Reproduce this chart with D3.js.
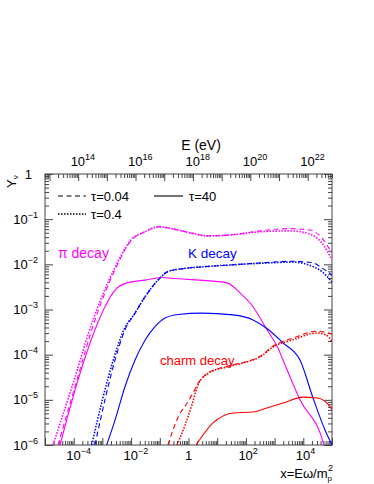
<!DOCTYPE html>
<html>
<head>
<meta charset="utf-8">
<script src="https://cdn.jsdelivr.net/npm/d3@7"></script>
<style>
  body { margin: 0; background: #fff; }
  svg { display: block; font-family: "Liberation Sans", Arial, sans-serif; }
</style>
</head>
<body>
<svg id="chart" width="374" height="484"></svg>
<script>
// axis ranges
const xDomain = [1e-5, 1e5]
const yDomain = [1e-6, 1]
const eDomain = [7e12, 7e22]   // E (eV) lined up with x on the top axis
const xLabelPowers = [-4, -2, 0, 2, 4]
const eLabelPowers = [14, 16, 18, 20, 22]
const yLabelPowers = [0, -1, -2, -3, -4, -5, -6]

// pi decay  [x, Y]
const piShort = [[2.84e-5,1e-6],[1.11e-4,1.95e-5],[5.52e-4,5.89e-4],[2.75e-3,7.59e-3],[0.0105,0.0347],[0.0305,0.0525],[0.0865,0.0676],[0.431,0.0575],[1.29,0.049],[4.42,0.0427],[27.9,0.0447],[309,0.055],[3443,0.0617],[17100,0.0575],[44670,0.038],[1e5,0.0178]]
const piMid = [[1.9e-5,1e-6],[8.73e-5,1.95e-5],[4.7e-4,5.89e-4],[2.54e-3,7.59e-3],[9.93e-3,0.0347],[0.0305,0.0525],[0.0865,0.0676],[0.431,0.0575],[1.29,0.049],[4.42,0.0427],[27.9,0.0447],[309,0.0525],[3443,0.055],[17100,0.0468],[44670,0.0295],[1e5,0.0126]]
const piLong = [[3.33e-5,1e-6],[1.41e-4,2.75e-5],[5.52e-4,3.55e-4],[1.23e-3,1.15e-3],[2.75e-3,2.69e-3],[7.19e-3,3.89e-3],[0.0305,4.47e-3],[0.116,5.13e-3],[0.431,4.79e-3],[2.51,4.47e-3],[21.9,3.89e-3],[62.2,2.34e-3],[177,1.15e-3],[543,3.55e-4],[1312,1.41e-4],[1963,7.59e-5],[7674,1e-5],[48530,1.17e-6],[57020,8e-7]]

// K decay
const kShort = [[5.52e-4,1e-6],[1.23e-3,1e-5],[2.75e-3,7.59e-5],[6.12e-3,3.55e-4],[0.0137,8.32e-4],[0.0305,1.91e-3],[0.0865,4.47e-3],[0.193,6.92e-3],[0.755,8.13e-3],[3.76,8.91e-3],[35.6,9.77e-3],[543,0.011],[4375,0.0117],[21780,0.0107],[44670,8.32e-3],[1e5,5.75e-3]]
const kMid = [[4.24e-4,1e-6],[1.0e-3,1e-5],[2.4e-3,7.59e-5],[5.6e-3,3.55e-4],[0.0137,8.32e-4],[0.0305,1.91e-3],[0.0865,4.47e-3],[0.193,6.92e-3],[0.755,8.13e-3],[3.76,8.91e-3],[35.6,9.77e-3],[543,0.0107],[4375,0.0112],[21780,8.91e-3],[44670,6.9e-3],[1e5,4.07e-3]]
const kLong = [[1.41e-3,1e-6],[2.75e-3,3.55e-6],[6.12e-3,1.95e-5],[0.0137,7.59e-5],[0.0305,2.09e-4],[0.068,4.17e-4],[0.152,6.46e-4],[0.442,7.76e-4],[2.88,8.32e-4],[35.6,7.59e-4],[177,5.89e-4],[543,3.8e-4],[1963,1.82e-4],[7674,7.59e-5],[21780,1.1e-5],[57020,2.14e-6],[1e5,1e-6]]

// charm decay
const cShort = [[0.193,1e-6],[0.288,2.14e-6],[0.467,4.57e-6],[0.818,7.76e-6],[1.5,1.5e-5],[2.14,2.3e-5],[4.42,3.8e-5],[21.9,5.5e-5],[109,7.1e-5],[309,9.1e-5],[879,1.55e-4],[4375,2.34e-4],[29990,3.31e-4],[61800,3.1e-4],[1e5,2.88e-4]]
const cMid = [[0.397,1e-6],[0.755,2.75e-6],[1.32,7.76e-6],[2.14,2.14e-5],[4.42,3.72e-5],[21.9,5.37e-5],[109,6.92e-5],[309,8.91e-5],[879,1.48e-4],[4375,2.14e-4],[29990,3.02e-4],[61800,2.75e-4],[1e5,1.91e-4]]
const cLong = [[1.82,1e-6],[7.14,3.09e-6],[35.6,5.13e-6],[177,5.37e-6],[543,6.61e-6],[1963,8.51e-6],[9772,1.15e-5],[29990,1.1e-5],[66990,8.51e-6],[1e5,6.03e-6]]

const PINK = '#ff00ff', BLUE = '#0000ff', RED = '#ff0000'
const DASH = '5,3.5', DOT = '1.5,1.5'

const series = [
  { data: piShort, color: PINK, dash: DASH },
  { data: piMid, color: PINK, dash: DOT },
  { data: piLong, color: PINK, dash: null },
  { data: kShort, color: BLUE, dash: DASH },
  { data: kMid, color: BLUE, dash: DOT },
  { data: kLong, color: BLUE, dash: null },
  { data: cShort, color: RED, dash: DASH },
  { data: cMid, color: RED, dash: DOT },
  { data: cLong, color: RED, dash: null }
]

const L = 45, R = 332, T = 174, B = 445
const svg = d3.select('#chart')

const x = d3.scaleLog().domain(xDomain).range([L, R])
const e = d3.scaleLog().domain(eDomain).range([L, R])
const y = d3.scaleLog().domain(yDomain).range([B, T])

// log ticks: 1..9 per decade inside the domain
function logTicks(dom) {
  let major = [], minor = []
  let lo = Math.floor(Math.log10(dom[0])), hi = Math.ceil(Math.log10(dom[1]))
  for (let k = lo; k <= hi; k++) {
    for (let m = 1; m <= 9; m++) {
      let v = m * Math.pow(10, k)
      if (v < dom[0] * 0.9999 || v > dom[1] * 1.0001) continue
      if (m == 1) major.push(v); else minor.push(v)
    }
  }
  return { major, minor }
}

const tickCol = '#444'
function drawTicks(axisFn, scale, dom, tr, bigLen, smallLen) {
  let t = logTicks(dom)
  let gMaj = svg.append('g').attr('transform', tr)
    .call(axisFn(scale).tickValues(t.major).tickSize(bigLen).tickFormat(''))
  let gMin = svg.append('g').attr('transform', tr)
    .call(axisFn(scale).tickValues(t.minor).tickSize(smallLen).tickFormat(''))
  ;[gMaj, gMin].forEach(g => {
    g.select('.domain').remove()
    g.selectAll('line').attr('stroke', tickCol)
  })
}
// ticks all point inward
drawTicks(d3.axisBottom, x, xDomain, `translate(0,${B})`, -7, -4)
drawTicks(d3.axisTop, e, eDomain, `translate(0,${T})`, -7, -4)
drawTicks(d3.axisLeft, y, yDomain, `translate(${L},0)`, -8, -4)
drawTicks(d3.axisRight, y, yDomain, `translate(${R},0)`, -8, -4)

svg.append('rect').attr('x', L).attr('y', T).attr('width', R - L).attr('height', B - T)
  .attr('fill', 'none').attr('stroke', tickCol).attr('stroke-width', 1)

// curves
svg.append('clipPath').attr('id', 'clip').append('rect')
  .attr('x', L).attr('y', T).attr('width', R - L).attr('height', B - T)

const line = d3.line()
  .x(d => x(d[0])).y(d => y(d[1]))
  .curve(d3.curveMonotoneX)

svg.append('g').attr('clip-path', 'url(#clip)')
  .selectAll('path').data(series).enter().append('path')
  .attr('d', d => line(d.data))
  .attr('fill', 'none')
  .attr('stroke', d => d.color)
  .attr('stroke-width', d => d.dash == DOT ? 1.6 : 1.1)
  .attr('stroke-dasharray', d => d.dash)

// power-of-ten labels
function powText(sel, p) {
  if (p === 0) { sel.text('1'); return }
  sel.append('tspan').text('10')
  sel.append('tspan').attr('dy', -6).attr('font-size', 9).text(p < 0 ? '\u2212' + (-p) : p)
}
const FS = 13
xLabelPowers.forEach(p => {
  let px = x(Math.pow(10, p))
  let t = svg.append('text').attr('font-size', FS).attr('y', 460)
  if (p === 0) t.attr('x', px).attr('text-anchor', 'middle')
  else t.attr('x', px - 7.5)
  powText(t, p)
})
eLabelPowers.forEach(p => {
  let px = e(Math.pow(10, p))
  let t = svg.append('text').attr('font-size', FS).attr('y', 166).attr('x', px - 7.5)
  powText(t, p)
})
yLabelPowers.forEach(p => {
  let py = y(Math.pow(10, p))
  let t = svg.append('text').attr('font-size', FS).attr('y', py + 4.5)
    .attr('text-anchor', 'end').attr('x', p === 0 ? 32 : 38)
  powText(t, p)
})

// axis titles
svg.append('text').attr('x', 201).attr('y', 150).attr('text-anchor', 'middle')
  .attr('font-size', 14).text('E (eV)')

let xt = svg.append('text').attr('x', 333).attr('y', 478).attr('text-anchor', 'end').attr('font-size', 13)
xt.append('tspan').text('x=E\u03c9/m')
xt.append('tspan').attr('font-size', 8).attr('dy', 3).text('p')
xt.append('tspan').attr('font-size', 9).attr('dx', -4).attr('dy', -10).text('2')

let yt = svg.append('text').attr('transform', 'translate(16,188) rotate(-90)').attr('font-size', 13)
yt.append('tspan').text('Y')
yt.append('tspan').attr('font-size', 8).attr('dy', 2).text('\u03bd')

// legend
const legend = [
  { x1: 58, x2: 86, y: 196, dash: DASH, label: '\u03c4=0.04', tx: 91 },
  { x1: 154, x2: 183, y: 196, dash: null, label: '\u03c4=40', tx: 189 },
  { x1: 58, x2: 86, y: 214, dash: DOT, label: '\u03c4=0.4', tx: 91 }
]
legend.forEach(l => {
  svg.append('line').attr('x1', l.x1).attr('x2', l.x2).attr('y1', l.y).attr('y2', l.y)
    .attr('stroke', '#000').attr('stroke-width', l.dash == DOT ? 1.6 : 1.1)
    .attr('stroke-dasharray', l.dash)
  svg.append('text').attr('x', l.tx).attr('y', l.y + 5).attr('font-size', 13).text(l.label)
})

// curve labels
svg.append('text').attr('x', 58).attr('y', 258).attr('font-size', 14).attr('fill', PINK).text('\u03c0 decay')
svg.append('text').attr('x', 188).attr('y', 258).attr('font-size', 13.5).attr('fill', BLUE).text('K decay')
svg.append('text').attr('x', 160).attr('y', 365).attr('font-size', 13).attr('fill', RED).text('charm decay')
</script>
</body>
</html>
